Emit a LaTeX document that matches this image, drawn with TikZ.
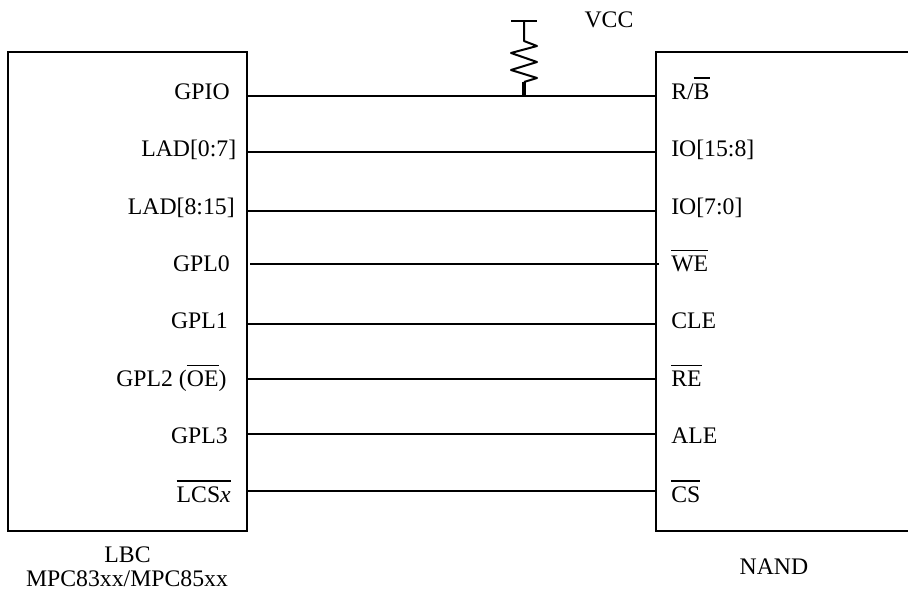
\documentclass[tikz,border=0pt]{standalone}
\usepackage{fontspec}
\setmainfont{Liberation Serif}
\usepackage{tikz}
\usetikzlibrary{positioning}
\newcommand{\ovl}[1]{\setbox0=\hbox{#1}\rlap{\rule[15.3pt]{\wd0}{0.9pt}}\copy0}
\tikzset{
  boxline/.style={line width=1.5pt,line join=miter},
  wire/.style={line width=1.5pt},
  pintext/.style={font=\fontsize{17.8pt}{21pt}\selectfont,inner sep=0pt},
  pinl/.style={pintext,anchor=base east},
  pinr/.style={pintext,anchor=base west}
}

\begin{document}
\begin{tikzpicture}[x=0.75pt,y=-0.75pt]
  \useasboundingbox (0,0) rectangle (908,589);
  % the two chips
  \draw[boxline] (8,52) rectangle (247,531);
  \draw[boxline] (908,52) -- (656,52) -- (656,531) -- (908,531);
  % pins and wires
  \foreach \n/\y/\xa/\xb/\xl/\yb/\ltxt/\rtxt in {
    1/95.5/247/656/230/99/GPIO/{R/\ovl{B}},
    2/152/247/656/236.5/156.7/LAD[0:7]/IO[15:8],
    3/211/247/656/235/214/LAD[8:15]/IO[7:0],
    4/264/250/659/230/271.7/GPL0/\ovl{WE},
    5/324/247/656/228/328/GPL1/CLE,
    6/379/247/656/226.7/386.5/{GPL2 (\ovl{OE})}/\ovl{RE},
    7/434/247/656/228/443/GPL3/ALE,
    8/491/247/656/231/502/\ovl{LCS\textit{x}}/\ovl{CS}}{
    \coordinate (lbc\n) at (\xa,\y);
    \coordinate (nand\n) at (\xb,\y);
    \node[pinl] (lbcpin\n) at (\xl,\yb) {\ltxt};
    \node[pinr] (nandpin\n) at (671,\yb) {\rtxt};
    \draw[wire] (lbc\n) -- (nand\n);
  }
  % pull-up
  \coordinate (vcctop) at (524,21);
  \coordinate (vccl) at (511,21);
  \coordinate (vccr) at (537,21);
  \coordinate (vccfoot) at (524,82);
  \coordinate (vccjoin) at (524,95.5);
  \draw[wire] (vccl) -- (vccr);
  \draw[wire,line join=round] (vcctop) -- (524,41) -- (537,46) -- (511,53) -- (537,62) -- (511,70) -- (537,78) -- (vccfoot);
  \draw[line width=2.4pt] (vccfoot) -- (vccjoin);
  \node[pintext,anchor=base] (vcc) at (609,27) {VCC};
  \node[pintext,anchor=base] (lbc) at (127.5,562) {LBC};
  \node[pintext,anchor=base] (mpc) at (127,586.5) {MPC83xx/MPC85xx};
  \node[pintext,anchor=base] (nand) at (774,574) {NAND};
\end{tikzpicture}
\end{document}
